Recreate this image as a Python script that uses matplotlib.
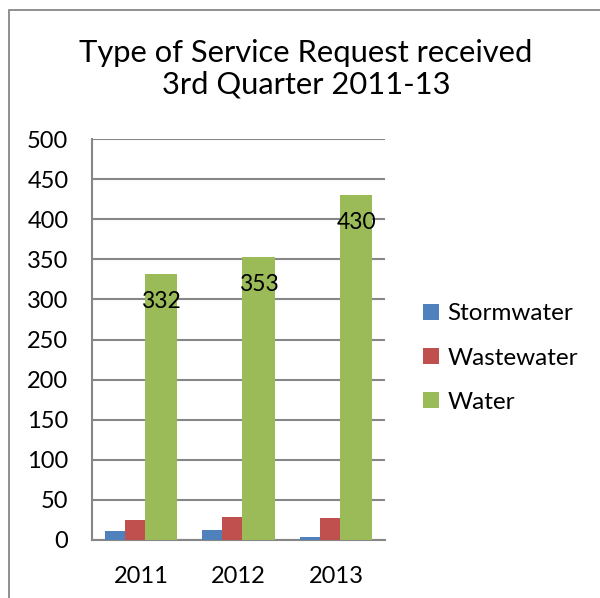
import numpy as np
import matplotlib
matplotlib.use('Agg')
import matplotlib.pyplot as plt
from matplotlib.patches import Rectangle

plt.rcParams['font.family'] = ['Lato', 'DejaVu Sans']

# Service request counts, 3rd quarter
years = ['2011', '2012', '2013']
stormwater = [11, 13, 4]
wastewater = [25, 29, 27]
water = [332, 353, 430]

series = ['Stormwater', 'Wastewater', 'Water']
colors = ['#4F81BD', '#C0504D', '#9BBB59']
widths = [0.205, 0.205, 0.333]

fig = plt.figure(figsize=(6.0, 5.98), dpi=100)
ax = fig.add_axes([92/600, 58/598, 293/600, 401/598])

# outer chart border
fig.patches.append(Rectangle((9/600, -0.05), 1.0, 1 - 10/598 + 0.05,
                             transform=fig.transFigure, fill=False,
                             edgecolor='#878787', linewidth=1.3))

x = np.arange(len(years))
start = x - sum(widths) / 2
bars = []
for vals, w, c, name in zip([stormwater, wastewater, water], widths, colors, series):
    b = ax.bar(start, vals, width=w, align='edge', color=c, label=name, zorder=3)
    bars.append(b)
    start = start + w

# value labels inside the top of the water bars
for rect, v in zip(bars[2], water):
    ax.annotate(str(v), (rect.get_x() + rect.get_width() / 2, v),
                xytext=(0, -20), textcoords='offset points',
                ha='center', va='center', fontsize=16.5, color='black', zorder=4)

ax.set_xlim(-0.5, 2.5)
ax.set_ylim(0, 500)
ax.set_yticks(range(0, 501, 50))
ax.set_xticks(x)
ax.set_xticklabels(years)
ax.tick_params(axis='both', length=0, labelsize=17)
ax.tick_params(axis='y', pad=17)
ax.tick_params(axis='x', pad=19)
ax.yaxis.grid(True, color='#878787', linewidth=1.5, zorder=0)
for s in ['top', 'right']:
    ax.spines[s].set_visible(False)
for s in ['left', 'bottom']:
    ax.spines[s].set_color('#878787')
    ax.spines[s].set_linewidth(1.5)

fig.text(306/600, 1 - 69/598, 'Type of Service Request received\n3rd Quarter 2011-13',
         ha='center', va='center', fontsize=22.2, linespacing=1.15)

ax.legend(loc='center left', bbox_to_anchor=(423/600, 1 - 358/598),
          bbox_transform=fig.transFigure, frameon=False, fontsize=17.5,
          handlelength=0.65, handleheight=0.65, handletextpad=0.35,
          labelspacing=0.95, borderpad=0, borderaxespad=0)

plt.savefig('out.png', dpi=100)
